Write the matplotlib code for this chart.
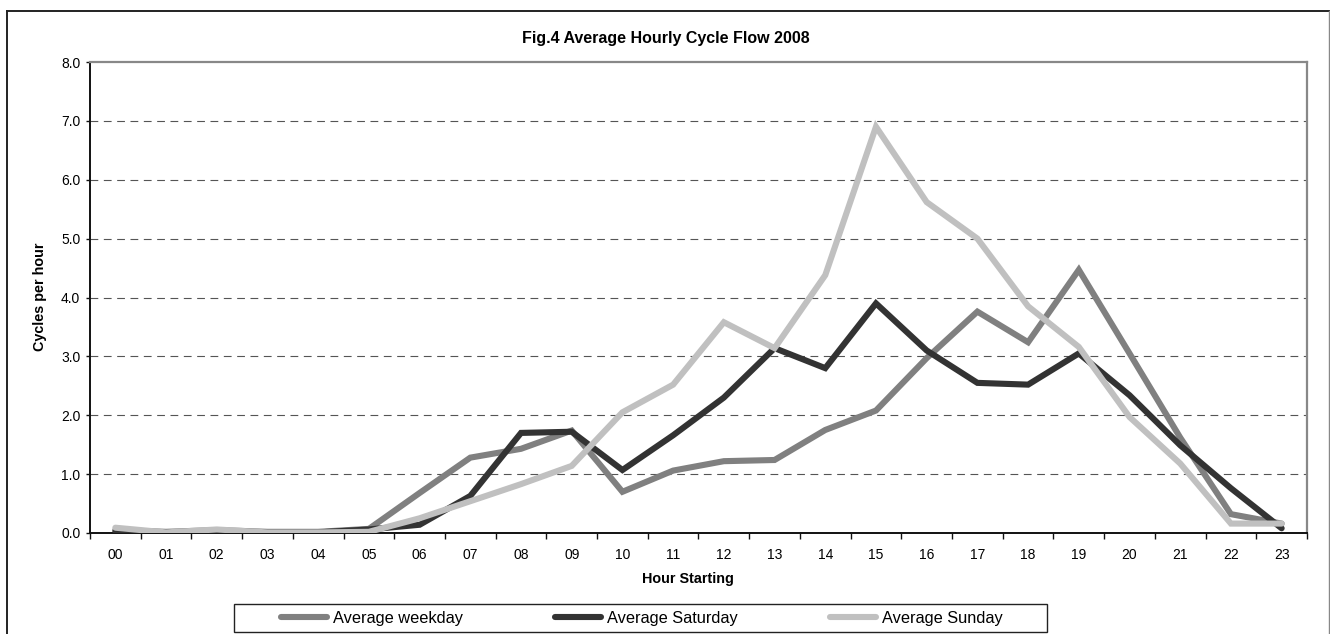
import numpy as np
import matplotlib
matplotlib.use('Agg')
import matplotlib.pyplot as plt
from matplotlib.lines import Line2D
from matplotlib.patches import Rectangle

plt.rcParams['font.family'] = ['Liberation Sans', 'DejaVu Sans']

hours = ['00', '01', '02', '03', '04', '05', '06', '07', '08', '09', '10', '11',
         '12', '13', '14', '15', '16', '17', '18', '19', '20', '21', '22', '23']

weekday = [0.05, 0.02, 0.05, 0.02, 0.02, 0.07, 0.68, 1.28, 1.43, 1.74, 0.70, 1.06,
           1.22, 1.24, 1.75, 2.08, 2.97, 3.76, 3.24, 4.47, 3.05, 1.62, 0.32, 0.16]
saturday = [0.03, 0.01, 0.03, 0.01, 0.01, 0.06, 0.14, 0.63, 1.70, 1.72, 1.07, 1.66,
            2.30, 3.14, 2.80, 3.90, 3.10, 2.55, 2.52, 3.05, 2.34, 1.49, 0.76, 0.08]
sunday = [0.09, 0.01, 0.06, 0.01, 0.01, 0.02, 0.25, 0.54, 0.83, 1.14, 2.05, 2.52,
          3.58, 3.14, 4.38, 6.90, 5.62, 5.00, 3.85, 3.16, 1.97, 1.18, 0.16, 0.16]

series = [
    ('Average weekday', weekday, '#808080'),
    ('Average Saturday', saturday, '#333333'),
    ('Average Sunday', sunday, '#c0c0c0'),
]

W, H = 1330, 634
fig = plt.figure(figsize=(W / 100, H / 100), dpi=100)

def fx(px):
    return px / W

def fy(py):
    return 1 - py / H

# outer chart frame
fig.add_artist(Line2D([fx(7), fx(7)], [fy(11), -0.1], color='#222222', lw=1.4))
fig.add_artist(Line2D([fx(7), fx(1329)], [fy(11), fy(11)], color='#222222', lw=1.4))
fig.add_artist(Line2D([fx(1329), fx(1329)], [fy(11), -0.1], color='#888888', lw=1.0))

ax = fig.add_axes([fx(90), fy(533), fx(1307) - fx(90), fy(62) - fy(533)])

x = np.arange(len(hours))
for name, vals, col in series:
    ax.plot(x, vals, color=col, lw=4.4, solid_capstyle='round',
            solid_joinstyle='miter', zorder=3)

ax.set_xlim(-0.5, len(hours) - 0.5)
ax.set_ylim(0, 8)
ax.set_yticks(np.arange(0, 8.1, 1.0))
ax.set_yticklabels(['%.1f' % v for v in np.arange(0, 8.1, 1.0)])
ax.set_xticks(np.arange(-0.5, len(hours), 1.0))
ax.set_xticklabels([])
ax.set_xticks(x, minor=True)
ax.set_xticklabels(hours, minor=True)
ax.tick_params(axis='x', which='major', length=4, width=1.0, direction='out', color='#111111')
ax.tick_params(axis='x', which='minor', length=0, pad=11, labelsize=10)
ax.tick_params(axis='y', length=3, width=1.0, pad=4, labelsize=10, color='#111111')

for yv in range(1, 8):
    ax.axhline(yv, color='#555555', lw=0.8, dashes=(7, 5), zorder=1)

for side in ['left', 'bottom']:
    ax.spines[side].set_color('#111111')
    ax.spines[side].set_linewidth(1.4)
for side in ['top', 'right']:
    ax.spines[side].set_color('#888888')
    ax.spines[side].set_linewidth(1.6)

fig.text(fx(666), fy(38), 'Fig.4 Average Hourly Cycle Flow 2008', ha='center', va='center',
         fontsize=11.5, fontweight='bold')
fig.text(fx(688), fy(579), 'Hour Starting', ha='center', va='center',
         fontsize=10.4, fontweight='bold')
fig.text(fx(40), fy(297), 'Cycles per hour', ha='center', va='center', rotation=90,
         fontsize=10.4, fontweight='bold')

# legend box with three entries
fig.add_artist(Rectangle((fx(234), fy(632)), fx(1047) - fx(234), fy(604) - fy(632),
                         fill=False, edgecolor='#222222', lw=1.0))
starts = [278, 552, 827]
for (name, vals, col), sx in zip(series, starts):
    fig.add_artist(Line2D([fx(sx + 3), fx(sx + 49)], [fy(617), fy(617)], color=col,
                          lw=4.4, solid_capstyle='round'))
    fig.text(fx(sx + 55), fy(618), name, ha='left', va='center', fontsize=11.8)

fig.savefig('out.png', dpi=100)
